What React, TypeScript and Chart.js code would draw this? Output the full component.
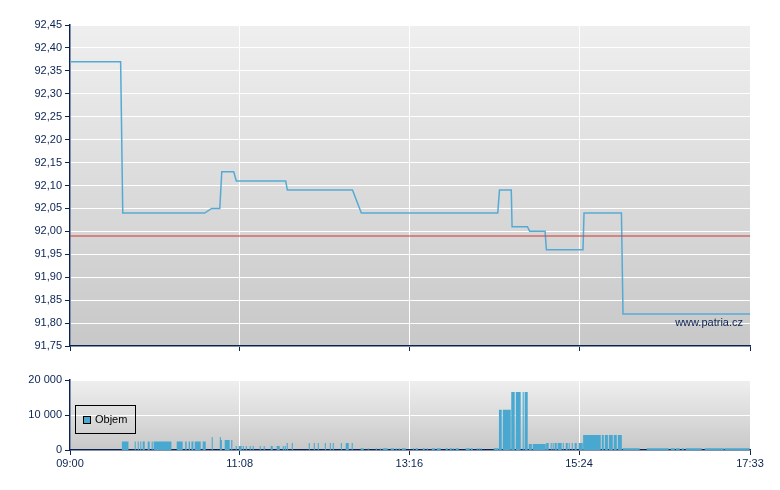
import { useEffect, useRef } from "react";
import { Chart, registerables } from "chart.js";

Chart.register(...registerables);

const NAVY = "#0b2353";
const LINE_BLUE = "#55aad5";
const BAR_BLUE = "#48a8d0";

// x axis in minutes since 09:00
const timeTicks = [0, 128, 256, 384, 513];
const timeLabels = ["09:00", "11:08", "13:16", "15:24", "17:33"];

const priceMin = 91.75;
const priceMax = 92.45;
const prevClose = 91.99;

const priceTimes = [
	0, 38.2, 39.8, 101.6, 106.9, 113.0, 114.5, 123.5, 125.5, 162.7, 164.0, 213.1,
	219.8, 322.7, 324.0, 332.9, 333.5, 345.1, 346.8, 358.4, 359.4, 387.0, 387.8,
	416.0, 417.2, 513,
];
const priceValues = [
	92.37, 92.37, 92.04, 92.04, 92.05, 92.05, 92.13, 92.13, 92.11, 92.11, 92.09, 92.09,
	92.04, 92.04, 92.09, 92.09, 92.01, 92.01, 92.0, 92.0, 91.96, 91.96, 92.04,
	92.04, 91.82, 91.82,
];

// volume bars: start / end minute, traded amount
const volStart = [
	39.0, 48.8, 51.1, 53.0, 54.8, 58.6, 61.6, 63.1, 80.5, 86.9, 89.5, 91.6, 94.1, 100.1,
	106.9, 113.0, 113.8, 116.7, 121.6, 125.0, 127.3, 130.3, 132.6, 135.6, 137.8, 143.1,
	146.1, 151.4, 155.9, 160.5, 162.0, 163.5, 167.3, 180.1, 183.9, 186.9, 192.2, 196.0,
	198.2, 204.3, 208.0, 212.5,
	219.3, 224.6, 230.7, 233.7, 236.0, 242.0, 245.7, 248.0, 250.3, 258.6, 260.8, 266.1,
	269.1, 272.9, 276.7, 283.5, 286.5, 288.7, 291.0, 298.5, 302.3, 306.8, 308.3, 309.8,
	319.7,
	323.6, 326.5, 332.9, 336.3, 341.5, 343.0, 346.1, 349.1, 359.2, 362.6, 364.1, 365.6,
	367.9, 371.7, 374.0, 376.2, 378.5, 380.7, 383.8, 387.1, 401.2, 403.5, 406.5, 410.2,
	413.3,
	417.0, 435.1, 453.2, 457.0, 461.5, 464.5, 478.9, 493.9,
];
const volEnd = [
	44.1, 49.6, 51.9, 53.8, 56.4, 60.1, 62.4, 76.5, 85.0, 88.0, 90.5, 93.1, 98.6, 102.4,
	107.7, 113.8, 114.6, 120.5, 122.5, 125.8, 129.5, 131.1, 133.4, 136.4, 138.6, 143.9,
	146.9, 152.9, 158.2, 161.3, 162.8, 164.3, 168.1, 180.9, 184.7, 187.7, 193.0, 196.8,
	199.0, 205.1, 210.3, 213.3,
	221.6, 225.4, 231.5, 234.5, 239.7, 244.3, 246.5, 248.8, 253.3, 259.4, 262.4, 267.6,
	269.9, 275.2, 279.7, 285.0, 288.0, 289.5, 293.3, 301.5, 303.8, 307.6, 309.1, 310.6,
	323.4,
	325.7, 332.5, 335.5, 340.0, 342.3, 345.3, 348.4, 358.9, 361.1, 363.4, 364.9, 367.2,
	370.9, 372.5, 375.5, 377.0, 379.3, 382.3, 386.8, 400.4, 402.7, 405.8, 409.5, 412.5,
	416.3,
	429.8, 451.7, 456.2, 460.0, 463.0, 476.6, 493.2, 512.8,
];
const volAmount = [
	2400, 2400, 2400, 2400, 2400, 2400, 2400, 2400, 2400, 2400, 2400, 2400, 2400, 2400,
	3700, 3700, 2850, 2850, 2850, 1150, 1150, 1150, 1150, 1150, 1150, 1150,
	1150, 1150, 1150, 1150, 1150, 2000, 2000, 2000, 2000, 2000, 2000, 2000,
	2000, 2000, 2000, 2000,
	500, 500, 500, 500, 500, 500, 500, 500, 500, 500, 500, 500,
	500, 500, 500, 500, 500, 500, 500, 500, 500, 500, 500, 500,
	500,
	11500, 11500, 16600, 16600, 16600, 16600, 1700, 1700, 2000, 2000, 2000, 2000,
	2000, 2000, 2000, 2000, 2000, 2000, 2000, 4300, 4300, 4300, 4300, 4300,
	4300,
	500, 500, 500, 500, 500, 500, 500, 500,
];

Chart.defaults.font.family = "'Liberation Sans', Arial, sans-serif";
Chart.defaults.font.size = 11;
Chart.defaults.color = NAVY;

const plotBg = {
	id: "plotBg",
	beforeDraw(chart: any) {
		const { ctx, chartArea: a } = chart;
		const g = ctx.createLinearGradient(0, a.top, 0, a.bottom);
		g.addColorStop(0, "#efefef");
		g.addColorStop(1, "#c8c8c8");
		ctx.save();
		ctx.fillStyle = g;
		ctx.fillRect(a.left, a.top, a.right - a.left, a.bottom - a.top);
		ctx.restore();
	},
};

const watermark = {
	id: "watermark",
	afterDraw(chart: any) {
		const { ctx, chartArea: a } = chart;
		ctx.save();
		ctx.font = "11px 'Liberation Sans', Arial, sans-serif";
		ctx.fillStyle = NAVY;
		ctx.textAlign = "right";
		ctx.textBaseline = "middle";
		ctx.fillText("www.patria.cz", a.right - 7, a.bottom - 23);
		ctx.restore();
	},
};

const boxLegend = {
	id: "boxLegend",
	afterDraw(chart: any) {
		const { ctx, chartArea: a } = chart;
		const ds = chart.data.datasets[0];
		ctx.save();
		ctx.strokeStyle = "#000";
		ctx.lineWidth = 1;
		ctx.strokeRect(a.left + 5.5, a.top + 25.5, 60, 28);
		ctx.fillStyle = ds.backgroundColor;
		ctx.fillRect(a.left + 13, a.top + 36, 7, 7);
		ctx.strokeRect(a.left + 13.5, a.top + 36.5, 7, 7);
		ctx.fillStyle = "#000";
		ctx.font = "11px 'Liberation Sans', Arial, sans-serif";
		ctx.textBaseline = "middle";
		ctx.fillText(ds.label, a.left + 25, a.top + 40);
		ctx.restore();
	},
};

const timeAxis = (showLabels: boolean, height: number) => ({
	type: "linear" as const,
	min: 0,
	max: 513,
	afterBuildTicks: (axis: any) => {
		axis.ticks = timeTicks.map((v) => ({ value: v }));
	},
	afterFit: (axis: any) => {
		axis.height = height;
	},
	ticks: {
		display: showLabels,
		padding: 2,
		maxRotation: 0,
		color: NAVY,
		callback: (v: any) => timeLabels[timeTicks.indexOf(Number(v))] ?? "",
	},
	grid: { color: "#ffffff", tickColor: NAVY, tickLength: 5 },
	border: { color: NAVY, width: 1.5 },
});

export default function App() {
	const priceRef = useRef<HTMLCanvasElement>(null);
	const volRef = useRef<HTMLCanvasElement>(null);

	useEffect(() => {
		if (!priceRef.current || !volRef.current) {
			return;
		}

		const priceChart = new Chart(priceRef.current, {
			type: "line",
			data: {
				datasets: [
					{
						label: "prevClose",
						data: [
							{ x: 0, y: prevClose },
							{ x: 513, y: prevClose },
						],
						borderColor: "rgba(205,70,70,0.75)",
						borderWidth: 1.5,
						pointRadius: 0,
					},
					{
						label: "Cena",
						data: priceTimes.map((t, i) => ({ x: t, y: priceValues[i] })),
						borderColor: LINE_BLUE,
						borderWidth: 1.5,
						pointRadius: 0,
						tension: 0,
					},
				],
			},
			options: {
				responsive: false,
				animation: false,
				layout: { padding: { top: 25, right: 30, left: 0, bottom: 0 } },
				plugins: { legend: { display: false }, tooltip: { enabled: false } },
				scales: {
					x: timeAxis(false, 24),
					y: {
						min: priceMin,
						max: priceMax,
						afterFit: (axis: any) => {
							axis.width = 70;
						},
						ticks: {
							stepSize: 0.05,
							padding: 3,
							color: NAVY,
							callback: (v: any) => Number(v).toFixed(2).replace(".", ","),
						},
						grid: { color: "#ffffff", tickColor: NAVY, tickLength: 5 },
						border: { color: NAVY, width: 1.5 },
					},
				},
			},
			plugins: [plotBg, watermark],
		});

		const volChart = new Chart(volRef.current, {
			type: "line",
			data: {
				datasets: [
					{
						label: "Objem",
						data: volStart.flatMap((s, i) => [
							{ x: s, y: volAmount[i] },
							{ x: volEnd[i], y: 0 },
						]),
						stepped: true,
						fill: "origin",
						backgroundColor: BAR_BLUE,
						borderColor: "transparent",
						pointRadius: 0,
					},
				],
			},
			options: {
				responsive: false,
				animation: false,
				layout: { padding: { top: 10, right: 30, left: 0, bottom: 0 } },
				plugins: { legend: { display: false }, tooltip: { enabled: false } },
				scales: {
					x: timeAxis(true, 40),
					y: {
						min: 0,
						max: 20000,
						afterFit: (axis: any) => {
							axis.width = 70;
						},
						ticks: {
							stepSize: 10000,
							padding: 3,
							color: NAVY,
							callback: (v: any) => String(v).replace(/\B(?=(\d{3})+(?!\d))/g, " "),
						},
						grid: { color: "#ffffff", tickColor: NAVY, tickLength: 5 },
						border: { color: NAVY, width: 1.5 },
					},
				},
			},
			plugins: [plotBg, boxLegend],
		});

		return () => {
			priceChart.destroy();
			volChart.destroy();
		};
	}, []);

	return (
		<div style={{ position: "fixed", left: 0, top: 0, width: 780, height: 490, background: "#fff" }}>
			<canvas ref={priceRef} width={780} height={370} style={{ position: "absolute", left: 0, top: 0 }} />
			<canvas ref={volRef} width={780} height={120} style={{ position: "absolute", left: 0, top: 370 }} />
		</div>
	);
}
